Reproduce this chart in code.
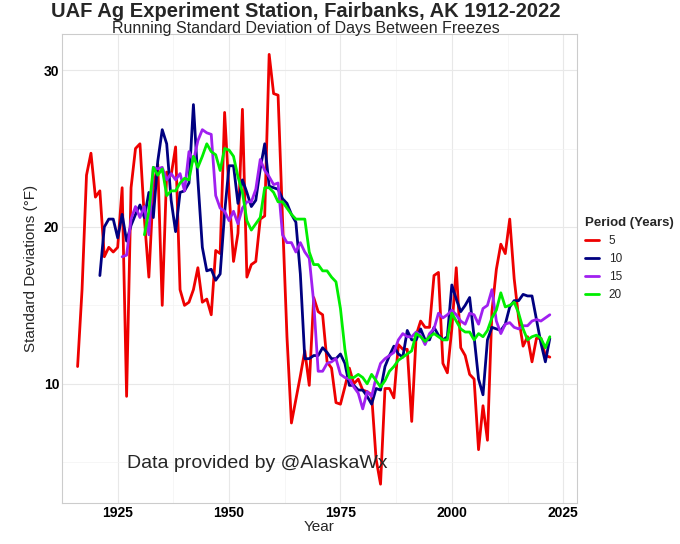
import numpy as np, pandas as pd, seaborn as sns, matplotlib
matplotlib.use("Agg")
import matplotlib.pyplot as plt

start5 = 1916
sd5 = [11.1,16,23.3,24.7,21.9,22.3,18.1,18.7,18.4,18.7,22.5,9.2,22.5,25.0,25.3,20.5,16.8,22.5,24.0,15.0,
       23.5,23.3,25.1,16.0,15.0,15.2,16.0,17.4,15.2,15.4,14.4,18.5,18.3,27.3,22.2,17.8,19.6,27.5,16.8,17.6,
       17.8,20.5,20.7,31.0,28.5,28.4,20.5,13.0,7.5,9.0,10.5,12.1,9.9,15.5,14.6,14.4,11.4,11.0,8.8,8.7,
       9.8,11.0,10.0,10.3,9.6,9.5,9.3,5.2,3.6,9.7,9.7,9.1,12.5,12.2,12.2,7.6,13.1,14.0,13.6,13.6,
       16.9,17.1,11.3,10.7,13.5,17.4,12.3,11.8,10.6,10.3,5.8,8.6,6.4,14.6,17.3,18.9,18.3,20.5,16.7,14.2,
       12.4,13.0,11.4,12.9,12.9,11.8,11.7]
start10 = 1921
sd10 = [16.9,20.0,20.5,20.5,19.3,20.8,19.1,20.1,20.8,21.4,20.6,22.2,20.6,24.2,26.2,25.3,21.7,19.7,22.2,22.3,
        22.8,27.8,23.0,18.7,17.2,17.3,16.6,17.0,20.9,23.9,23.9,21.5,23.0,22.2,21.3,21.7,23.7,25.3,22.6,22.5,
        22.4,21.8,21.5,20.8,20.3,17.0,11.6,11.6,11.8,11.8,12.3,12.0,11.6,11.6,11.9,11.3,9.9,9.9,9.6,9.6,
        9.2,8.7,9.7,9.6,11.1,11.8,12.4,11.9,11.7,13.4,12.8,12.8,13.5,12.8,12.8,13.6,13.1,12.8,13.0,16.3,
        15.4,14.6,15.0,15.5,13.0,10.3,9.3,12.8,13.6,13.5,13.4,13.8,14.9,15.3,15.3,15.7,15.6,15.6,14.1,12.6,
        11.4,12.9]
start15 = 1926
sd15 = [18.1,18.2,20.5,21.3,20.6,21.3,19.5,23.8,23.7,23.8,23.0,23.4,23.0,23.4,22.3,24.8,24.2,25.5,26.2,26.0,
        25.9,22.0,21.2,21.0,20.4,21.0,20.2,21.2,21.6,21.6,22.4,24.3,23.6,23.2,22.7,22.8,19.5,19.0,19.0,18.4,
        19.0,18.4,18.0,15.2,10.8,10.8,11.3,11.4,11.6,10.6,10.4,10.3,9.8,9.4,8.4,9.5,9.2,10.4,11.3,11.6,
        11.8,12.0,12.8,13.2,13.0,13.0,13.3,13.1,12.5,13.2,13.5,14.5,14.2,14.4,14.7,14.4,14.0,13.8,14.5,14.4,
        13.8,14.8,15.0,16.0,14.0,13.2,13.8,13.9,13.6,13.5,13.7,13.7,14.0,14.1,14.0,14.2,14.4]
start20 = 1931
sd20 = [19.5,21.0,23.8,23.3,23.7,22.0,22.3,22.3,22.8,23.1,23.0,24.5,23.8,24.5,25.3,24.8,24.6,23.6,25.0,24.9,
        24.5,23.2,22.2,20.4,19.8,20.2,20.6,22.5,22.5,22.2,21.6,21.6,21.2,20.8,20.5,20.5,20.5,18.4,17.6,17.6,
        17.2,17.2,16.8,16.5,14.8,12.2,10.4,10.4,10.6,10.4,10.0,10.6,10.2,9.8,10.2,10.8,11.1,11.5,11.7,11.9,
        12.1,13.2,13.0,12.7,13.0,13.2,13.0,12.8,12.8,14.5,14.0,13.5,13.3,13.3,12.8,13.2,13.0,13.4,14.2,14.7,
        15.8,14.9,15.0,15.2,14.5,13.5,12.8,13.0,13.1,12.9,12.3,13.0]

frames = []
for p, s, v in [("5", start5, sd5), ("10", start10, sd10), ("15", start15, sd15), ("20", start20, sd20)]:
    frames.append(pd.DataFrame({"Year": np.arange(s, s + len(v)), "SD": v, "Period (Years)": p}))
df = pd.concat(frames)

sns.set_theme(style="whitegrid")
plt.rcParams['font.family'] = ['Liberation Sans', 'DejaVu Sans']
fig = plt.figure(figsize=(6.8, 5.44), dpi=100)
ax = fig.add_axes([62/680, 41/544, (577-62)/680, (510-41)/544])
sns.lineplot(data=df, x="Year", y="SD", hue="Period (Years)", ax=ax, linewidth=2,
             palette={"5": "#ee0000", "10": "#000080", "15": "#a020f0", "20": "#00ee00"})
ax.set_xlim(1912.7, 2028.1)
ax.set_ylim(2.4, 32.3)
ax.set_xticks([1925, 1950, 1975, 2000, 2025])
ax.set_yticks([10, 20, 30])
ax.set_xticks(np.arange(1912.5, 2030, 12.5), minor=True)
ax.set_yticks([5, 15, 25], minor=True)
ax.grid(which="major", color="#e8e8e8", linewidth=0.8)
ax.grid(which="minor", color="#f3f3f3", linewidth=0.5)
for sp in ax.spines.values():
    sp.set_color("#cccccc"); sp.set_linewidth(0.8)
ax.tick_params(labelsize=10, pad=2, length=0)
for t in ax.get_xticklabels() + ax.get_yticklabels():
    t.set_fontweight("bold"); t.set_color("black")
ax.set_xlabel("Year", fontsize=11, labelpad=0)
ax.set_ylabel("Standard Deviations (°F)", fontsize=11, labelpad=4)
ax.text(1927, 4.6, "Data provided by @AlaskaWx", fontsize=14)
fig.text(0.45, 0.978, "UAF Ag Experiment Station, Fairbanks, AK 1912-2022", ha="center", va="center",
         fontsize=14.5, fontweight="bold")
fig.text(0.45, 0.948, "Running Standard Deviation of Days Between Freezes", ha="center", va="center", fontsize=11.5)
leg = ax.legend(title="Period (Years)", loc="center left", bbox_to_anchor=(1.0, 0.52), frameon=False,
                fontsize=8.5, handlelength=1.2, borderaxespad=0.3)
leg.get_title().set_fontweight("bold"); leg.get_title().set_fontsize(9.5)
leg._legend_box.align = "left"
fig.savefig("out.png", dpi=100)
